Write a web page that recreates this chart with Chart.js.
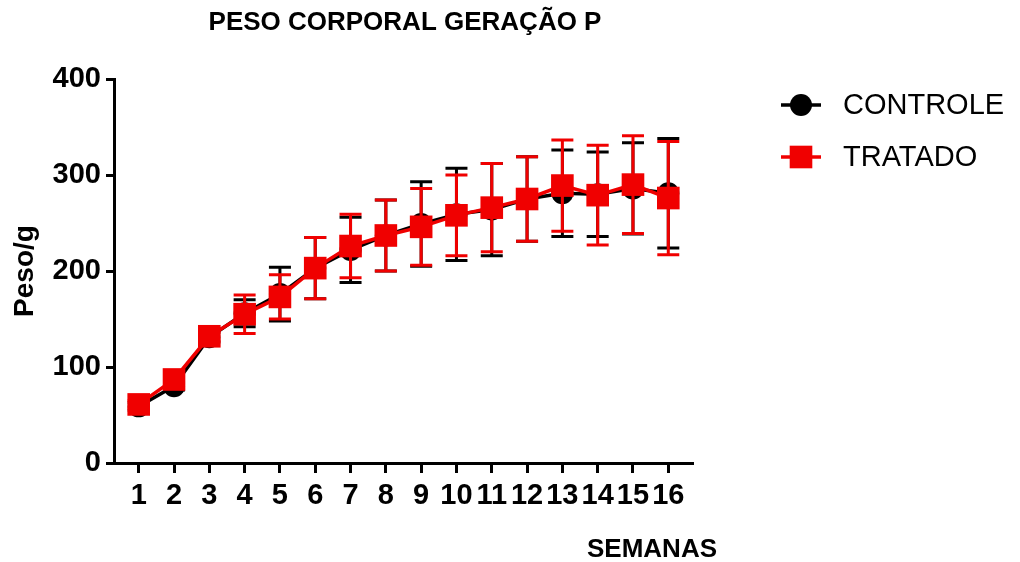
<!DOCTYPE html>
<html>
<head>
<meta charset="utf-8">
<title>Peso corporal geração P</title>
<script src="https://cdn.jsdelivr.net/npm/chart.js@4/dist/chart.umd.min.js"></script>
<style>
  html, body { margin: 0; padding: 0; background: #ffffff; }
  #wrap { width: 1020px; height: 562px; position: relative; }
</style>
</head>
<body>
<div id="wrap"><canvas id="grafico"></canvas></div>
<script>
// Semanas de acompanhamento
const semanas = [1, 2, 3, 4, 5, 6, 7, 8, 9, 10, 11, 12, 13, 14, 15, 16];

// Grupo controle: média e desvio padrão (g)
const controleMedia = [59, 80, 131, 156, 176, 203, 222, 237, 249, 259, 264, 275, 281, 280, 286, 281];
const controleDP    = [4, 4, 5, 14, 28, 32, 34, 37, 44, 48, 48, 44, 45, 44, 47.5, 57];

// Grupo tratado: média e desvio padrão (g)
const tratadoMedia = [61, 87, 132, 155, 173, 203, 226, 237, 246, 258, 266, 275, 289, 279, 290, 276];
const tratadoDP    = [4, 4, 5, 20, 23, 32, 33, 37, 40, 42, 46, 44, 47.5, 52, 51, 59];

// Marcas do eixo Y
const ticksY = [0, 100, 200, 300, 400];

const tituloGrafico = 'PESO CORPORAL GERAÇÃO P';
const tituloX = 'SEMANAS';
const tituloY = 'Peso/g';

const FONTE = '"Liberation Sans", Arial, Helvetica, sans-serif';
const PRETO = '#000000';
const VERMELHO = '#f00000';

const pontos = (medias) => semanas.map((s, i) => ({ x: s, y: medias[i] }));

// Barras de erro (média ± DP) desenhadas antes de cada série
const barrasErro = {
  id: 'barrasErro',
  beforeDatasetDraw(chart, args) {
    const ds = chart.data.datasets[args.index];
    if (!ds.desvio) return;
    const { ctx } = chart;
    const xs = chart.scales.x, ys = chart.scales.y;
    ctx.save();
    ctx.strokeStyle = ds.borderColor;
    ctx.lineWidth = 3;
    ctx.lineCap = 'butt';
    ds.data.forEach((p, i) => {
      const sd = ds.desvio[i];
      const x = xs.getPixelForValue(p.x);
      const yTop = ys.getPixelForValue(p.y + sd);
      const yBot = ys.getPixelForValue(p.y - sd);
      const half = 11;
      ctx.beginPath();
      ctx.moveTo(x, yTop); ctx.lineTo(x, yBot);
      ctx.moveTo(x - half, yTop); ctx.lineTo(x + half, yTop);
      ctx.moveTo(x - half, yBot); ctx.lineTo(x + half, yBot);
      ctx.stroke();
    });
    ctx.restore();
  }
};

// Título, título do eixo X e legenda
const textos = {
  id: 'textos',
  afterDraw(chart) {
    const { ctx } = chart;
    ctx.save();
    ctx.fillStyle = PRETO;
    ctx.textBaseline = 'middle';

    ctx.font = 'bold 26px ' + FONTE;
    ctx.textAlign = 'center';
    ctx.fillText(tituloGrafico, 405, 23);

    ctx.font = 'bold 26px ' + FONTE;
    ctx.textAlign = 'right';
    ctx.fillText(tituloX, 717, 550);

    // Legenda
    const legY = [105, 157];
    chart.data.datasets.forEach((ds, i) => {
      const y = legY[i];
      ctx.strokeStyle = ds.borderColor;
      ctx.lineWidth = ds.borderWidth;
      ctx.beginPath();
      ctx.moveTo(781, y); ctx.lineTo(821, y);
      ctx.stroke();
      ctx.fillStyle = ds.pointBackgroundColor;
      Chart.helpers.drawPoint(ctx, {
        pointStyle: ds.pointStyle, radius: ds.pointRadius, rotation: 0, borderWidth: 0
      }, 801, y);
      ctx.fillStyle = PRETO;
      ctx.font = '29px ' + FONTE;
      ctx.textAlign = 'left';
      ctx.fillText(ds.label, 843, y + 1);
    });
    ctx.restore();
  }
};

new Chart(document.getElementById('grafico'), {
  type: 'line',
  data: {
    datasets: [
      {
        label: 'CONTROLE',
        data: pontos(controleMedia),
        desvio: controleDP,
        borderColor: PRETO,
        backgroundColor: PRETO,
        pointBackgroundColor: PRETO,
        borderWidth: 3.5,
        pointStyle: 'circle',
        pointRadius: 11,
        pointBorderWidth: 0,
        tension: 0,
        order: 2,
        clip: false
      },
      {
        label: 'TRATADO',
        data: pontos(tratadoMedia),
        desvio: tratadoDP,
        borderColor: VERMELHO,
        backgroundColor: VERMELHO,
        pointBackgroundColor: VERMELHO,
        borderWidth: 3.5,
        pointStyle: 'rect',
        pointRadius: 16,
        pointBorderWidth: 0,
        tension: 0,
        order: 1,
        clip: false
      }
    ]
  },
  options: {
    responsive: true,
    maintainAspectRatio: false,
    animation: false,
    events: [],
    layout: { padding: { top: 79, right: 327, left: 0, bottom: 0 } },
    plugins: {
      legend: { display: false },
      title: { display: false },
      tooltip: { enabled: false }
    },
    scales: {
      x: {
        type: 'linear',
        min: 0.3,
        max: 16.7,
        afterBuildTicks(scale) { scale.ticks = semanas.map(v => ({ value: v })); },
        afterFit(scale) { scale.height = 99; },
        grid: { drawOnChartArea: false, drawTicks: true, tickLength: 10, tickWidth: 3, tickColor: PRETO },
        border: { display: true, width: 3, color: PRETO },
        ticks: {
          color: PRETO,
          font: { family: FONTE, size: 29, weight: 'bold' },
          padding: 6,
          maxRotation: 0,
          autoSkip: false,
          callback: (v) => String(v)
        }
      },
      y: {
        min: 0,
        max: 400,
        afterBuildTicks(scale) { scale.ticks = ticksY.map(v => ({ value: v })); },
        afterFit(scale) { scale.width = 114; },
        grid: { drawOnChartArea: false, drawTicks: true, tickLength: 8, tickWidth: 3, tickColor: PRETO },
        border: { display: true, width: 3, color: PRETO },
        ticks: {
          color: PRETO,
          font: { family: FONTE, size: 29, weight: 'bold' },
          padding: 5
        },
        title: {
          display: true,
          text: tituloY,
          color: PRETO,
          font: { family: FONTE, size: 28, weight: 'bold' },
          padding: { top: 8, bottom: 0 }
        }
      }
    }
  },
  plugins: [barrasErro, textos]
});
</script>
</body>
</html>
